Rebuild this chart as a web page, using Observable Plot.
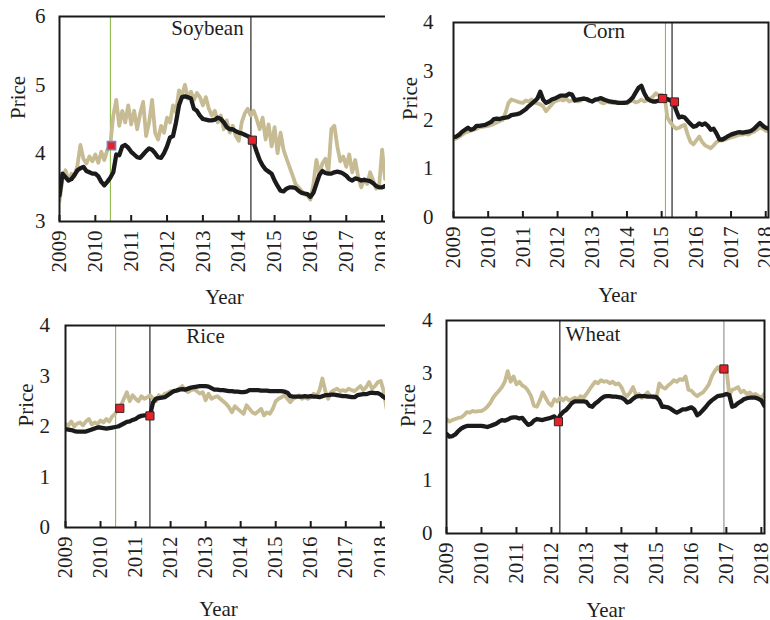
<!DOCTYPE html>
<html>
<head>
<meta charset="utf-8">
<script src="https://cdn.jsdelivr.net/npm/d3@7"></script>
<script src="https://cdn.jsdelivr.net/npm/@observablehq/plot@0.6"></script>
<style>
  html, body { margin: 0; padding: 0; background: #fff; }
  #chart { position: relative; width: 770px; height: 620px; overflow: hidden; }
  #chart > div { position: absolute; }
</style>
</head>
<body>
<div id="chart"></div>
<script>
// Monthly price series, starting January 2009 (one value per month).
const years = [2009, 2010, 2011, 2012, 2013, 2014, 2015, 2016, 2017, 2018];

const soybeanLight = [3.30,3.62,3.75,3.60,3.70,3.66,3.82,4.12,3.92,3.85,3.95,3.88,
  3.98,3.86,4.02,3.90,4.05,4.12,4.55,4.78,4.40,4.62,4.45,4.70,
  4.42,4.62,4.35,4.58,4.75,4.25,4.45,4.78,4.30,4.20,4.40,4.30,
  4.52,4.45,4.70,4.60,4.92,4.85,5.00,4.80,4.90,4.78,4.88,4.82,
  4.70,4.82,4.65,4.55,4.62,4.45,4.55,4.35,4.48,4.30,4.40,4.25,
  4.18,4.45,4.58,4.65,4.55,4.62,4.50,4.35,4.52,4.20,4.42,4.10,
  4.38,4.00,4.30,4.05,3.92,3.80,3.68,3.55,3.50,3.45,3.40,3.38,
  3.32,3.55,3.90,3.70,3.85,3.92,3.72,4.35,4.40,4.10,3.88,3.95,
  3.80,3.98,3.72,3.90,3.65,3.50,3.62,3.55,3.72,3.60,3.48,3.52,
  4.05,3.62,3.70];
const soybeanDark = [3.38,3.70,3.65,3.60,3.62,3.68,3.75,3.78,3.80,3.74,3.72,3.70,
  3.70,3.66,3.58,3.53,3.58,3.64,3.72,3.98,3.97,4.10,4.12,4.08,
  4.02,3.98,3.94,3.93,3.98,4.03,4.07,4.05,4.00,3.94,3.93,4.00,
  4.10,4.23,4.25,4.45,4.70,4.82,4.83,4.82,4.80,4.65,4.62,4.55,
  4.50,4.49,4.48,4.48,4.49,4.52,4.50,4.45,4.38,4.35,4.35,4.32,
  4.30,4.29,4.27,4.25,4.22,4.15,4.02,3.90,3.82,3.76,3.73,3.70,
  3.60,3.52,3.45,3.44,3.48,3.50,3.50,3.49,3.45,3.42,3.41,3.40,
  3.36,3.42,3.55,3.68,3.74,3.71,3.70,3.70,3.72,3.73,3.72,3.70,
  3.67,3.62,3.60,3.63,3.62,3.60,3.61,3.60,3.59,3.56,3.52,3.50,
  3.50,3.52,3.52];

const cornLight = [1.60,1.62,1.66,1.70,1.74,1.76,1.78,1.80,1.82,1.85,1.86,1.87,
  1.88,1.90,1.92,1.95,1.98,2.00,2.15,2.35,2.42,2.40,2.38,2.36,
  2.35,2.40,2.38,2.42,2.36,2.34,2.32,2.28,2.18,2.25,2.32,2.38,
  2.40,2.42,2.40,2.44,2.38,2.40,2.43,2.38,2.40,2.45,2.42,2.40,
  2.38,2.40,2.42,2.36,2.34,2.38,2.36,2.35,2.38,2.36,2.35,2.36,
  2.34,2.38,2.40,2.36,2.38,2.42,2.38,2.40,2.44,2.48,2.55,2.50,
  2.52,2.48,2.05,1.95,1.88,1.82,1.84,1.88,1.90,1.70,1.55,1.50,
  1.58,1.66,1.55,1.48,1.45,1.42,1.48,1.55,1.58,1.58,1.60,1.62,
  1.64,1.66,1.68,1.70,1.70,1.72,1.70,1.74,1.76,1.80,1.85,1.82,
  1.78,1.76];
const cornDark = [1.65,1.66,1.70,1.76,1.80,1.84,1.80,1.82,1.88,1.88,1.89,1.90,
  1.93,1.96,2.02,2.03,2.02,2.04,2.05,2.06,2.10,2.11,2.12,2.14,
  2.18,2.22,2.28,2.33,2.38,2.44,2.58,2.42,2.35,2.38,2.42,2.44,
  2.47,2.50,2.50,2.50,2.54,2.52,2.40,2.42,2.43,2.44,2.43,2.40,
  2.38,2.42,2.43,2.45,2.42,2.40,2.38,2.37,2.36,2.35,2.35,2.35,
  2.36,2.40,2.46,2.56,2.66,2.70,2.55,2.44,2.40,2.38,2.38,2.40,
  2.42,2.44,2.43,2.40,2.38,2.20,2.05,2.07,2.05,1.98,1.92,1.86,
  1.88,1.93,1.90,1.93,1.88,1.80,1.82,1.72,1.60,1.60,1.63,1.67,
  1.70,1.72,1.74,1.75,1.74,1.75,1.76,1.78,1.82,1.88,1.94,1.88,
  1.84,1.82];

const riceLight = [2.05,2.02,2.10,2.00,2.06,2.08,2.02,2.10,2.15,2.04,2.08,2.05,
  2.12,2.08,2.15,2.10,2.20,2.25,2.35,2.42,2.55,2.68,2.50,2.62,
  2.55,2.50,2.60,2.55,2.58,2.62,2.55,2.50,2.62,2.58,2.65,2.66,
  2.70,2.68,2.72,2.75,2.80,2.72,2.68,2.72,2.74,2.70,2.65,2.68,
  2.52,2.65,2.55,2.58,2.60,2.55,2.50,2.45,2.38,2.28,2.40,2.35,
  2.30,2.25,2.42,2.35,2.28,2.25,2.30,2.35,2.22,2.28,2.25,2.35,
  2.50,2.55,2.58,2.62,2.55,2.48,2.55,2.58,2.62,2.55,2.58,2.55,
  2.58,2.65,2.60,2.72,2.95,2.70,2.55,2.68,2.72,2.75,2.70,2.72,
  2.70,2.75,2.72,2.70,2.75,2.80,2.72,2.78,2.88,2.75,2.80,2.88,
  2.90,2.70,2.35];
const riceDark = [1.95,1.94,1.93,1.91,1.90,1.90,1.90,1.90,1.92,1.94,1.96,1.98,
  1.98,1.97,1.96,1.97,1.98,1.99,2.00,2.03,2.06,2.09,2.10,2.13,
  2.15,2.19,2.21,2.22,2.22,2.23,2.48,2.55,2.56,2.57,2.58,2.62,
  2.66,2.70,2.71,2.73,2.74,2.73,2.75,2.77,2.78,2.79,2.80,2.80,
  2.80,2.79,2.76,2.73,2.73,2.72,2.72,2.71,2.70,2.70,2.69,2.69,
  2.68,2.68,2.69,2.72,2.72,2.72,2.72,2.71,2.71,2.71,2.70,2.70,
  2.70,2.70,2.70,2.69,2.67,2.60,2.59,2.59,2.59,2.59,2.60,2.59,
  2.60,2.59,2.59,2.58,2.60,2.62,2.62,2.63,2.63,2.62,2.61,2.60,
  2.60,2.59,2.58,2.58,2.62,2.63,2.64,2.64,2.66,2.67,2.66,2.66,
  2.63,2.58,2.55];

const wheatLight = [2.15,2.10,2.13,2.15,2.17,2.18,2.22,2.28,2.27,2.30,2.29,2.30,
  2.30,2.33,2.38,2.45,2.55,2.62,2.68,2.75,2.85,3.05,2.85,2.95,
  2.80,2.85,2.78,2.75,2.68,2.58,2.40,2.38,2.50,2.65,2.55,2.45,
  2.40,2.52,2.48,2.55,2.50,2.55,2.50,2.52,2.55,2.52,2.58,2.55,
  2.62,2.70,2.78,2.85,2.82,2.88,2.85,2.86,2.82,2.85,2.80,2.82,
  2.75,2.62,2.58,2.65,2.75,2.60,2.62,2.55,2.60,2.65,2.58,2.55,
  2.55,2.82,2.75,2.72,2.78,2.82,2.88,2.85,2.90,2.88,2.95,2.70,
  2.68,2.62,2.58,2.62,2.65,2.72,2.80,2.95,3.05,3.12,3.05,3.10,
  3.12,2.60,2.70,2.72,2.75,2.65,2.68,2.62,2.65,2.60,2.62,2.58,
  2.55,2.62];
const wheatDark = [1.87,1.82,1.83,1.86,1.92,1.97,2.00,2.02,2.02,2.02,2.02,2.02,
  2.02,2.01,2.00,2.02,2.04,2.06,2.10,2.13,2.12,2.14,2.17,2.18,
  2.18,2.16,2.17,2.10,2.04,2.06,2.12,2.15,2.14,2.13,2.15,2.16,
  2.18,2.20,2.12,2.22,2.28,2.32,2.38,2.45,2.48,2.48,2.48,2.48,
  2.47,2.40,2.38,2.44,2.48,2.53,2.57,2.58,2.58,2.57,2.57,2.56,
  2.55,2.52,2.46,2.48,2.53,2.57,2.58,2.58,2.58,2.57,2.57,2.57,
  2.56,2.50,2.38,2.38,2.37,2.34,2.30,2.27,2.30,2.33,2.33,2.35,
  2.37,2.33,2.22,2.26,2.32,2.38,2.45,2.50,2.54,2.58,2.59,2.60,
  2.62,2.60,2.38,2.40,2.45,2.48,2.52,2.54,2.55,2.55,2.55,2.53,
  2.50,2.40];

// Event dates (vertical rules) and the highlighted observations at them.
const soybeanEvents = [2010.42, 2014.34];
const cornEvents = [2015.11, 2015.30];
const riceEvents = [2010.43, 2011.41];
const wheatEvents = [2012.24, 2016.93];

const soybeanPoints = [[2010.45, 4.11], [2014.38, 4.19]];
const cornPoints = [[2015.03, 2.44], [2015.37, 2.37]];
const ricePoints = [[2010.55, 2.36], [2011.41, 2.21]];
const wheatPoints = [[2012.20, 2.10], [2016.93, 3.09]];

const priceTicksSoy = [3, 4, 5, 6];
const priceTicks = [0, 1, 2, 3, 4];

const LIGHT = "#c7bb94";
const DARK = "#1b1b1b";
const GREEN = "#8fba4a";
const GREY = "#8a8a8a";
const RED = "#e3232b";

const panels = [
  {name: "Soybean", light: soybeanLight, dark: soybeanDark, events: soybeanEvents, eventColors: [GREEN, "#111"],
   points: soybeanPoints, pointStrokes: ["#5a8ad4", "#3a2020"], yDomain: [3, 6], yTicks: priceTicksSoy, xEnd: 2018.15,
   left: 0, top: 0, width: 392, height: 310, m: [16, 5, 89, 59], yPad: 14,
   title: [-16, 12], yearPos: [1, 76], pricePos: -41.5},
  {name: "Corn", light: cornLight, dark: cornDark, events: cornEvents, eventColors: [GREEN, "#111"],
   points: cornPoints, pointStrokes: ["#3a2020", "#3a2020"], yDomain: [0, 4], yTicks: priceTicks, xEnd: 2018.08,
   left: 385, top: 0, width: 385, height: 310, m: [22, 2, 93, 68], yPad: 20,
   title: [-7, 9], yearPos: [6.5, 77.5], pricePos: -43},
  {name: "Rice", light: riceLight, dark: riceDark, events: riceEvents, eventColors: [GREEN, "#111"],
   points: ricePoints, pointStrokes: ["#3a2020", "#3a2020"], yDomain: [0, 4], yTicks: priceTicks, xEnd: 2018.22,
   left: 0, top: 310, width: 392, height: 310, m: [15, 4, 93, 65], yPad: 15.5,
   title: [-21.5, 11], yearPos: [-8.5, 82], pricePos: -39},
  {name: "Wheat", light: wheatLight, dark: wheatDark, events: wheatEvents, eventColors: ["#111", GREY],
   points: wheatPoints, pointStrokes: ["#3a2020", "#3a2020"], yDomain: [0, 4], yTicks: priceTicks, xEnd: 2018.09,
   left: 385, top: 310, width: 385, height: 310, m: [10, 6, 87, 61], yPad: 14,
   title: [-12.5, 13.3], yearPos: [0, 76.5], pricePos: -38.5}
];

const asSeries = values => values.map((v, i) => ({date: 2009 + i / 12, price: v}));

const chart = document.getElementById("chart");

for (const p of panels) {
  const events = p.events.map((d, i) => ({date: d, color: p.eventColors[i]}));
  const points = p.points.map(([d, v], i) => ({date: d, price: v, outline: p.pointStrokes[i], sw: i === 0 && p.name === "Soybean" ? 1.6 : 1}));
  const [mt, mr, mb, ml] = p.m;

  const fig = Plot.plot({
    width: p.width,
    height: p.height,
    marginTop: mt,
    marginRight: mr,
    marginBottom: mb,
    marginLeft: ml,
    style: {fontFamily: "'Liberation Serif', 'Times New Roman', serif", fontSize: "21px", color: "#1e1e1e", background: "#fff", overflow: "visible"},
    x: {domain: [2009, p.xEnd]},
    y: {domain: p.yDomain},
    marks: [
      Plot.ruleX(events, {x: "date", stroke: "color", strokeWidth: 1.1}),
      Plot.line(asSeries(p.light), {x: "date", y: "price", stroke: LIGHT, strokeWidth: 3.8, clip: true}),
      Plot.line(asSeries(p.dark), {x: "date", y: "price", stroke: DARK, strokeWidth: 4.3, clip: true}),
      Plot.frame({stroke: "#1a1a1a", strokeWidth: 2}),
      Plot.axisX({ticks: years, tickSize: 0, tickPadding: 9, tickRotate: -90, tickFormat: d => String(d), label: null, fontSize: 21}),
      Plot.axisX({ticks: years, tickSize: 6, dy: -6, tickFormat: () => "", label: null, strokeWidth: 2, stroke: "#1a1a1a"}),
      Plot.axisY({ticks: p.yTicks, tickSize: 0, tickPadding: p.yPad, tickFormat: d => String(d), label: null, fontSize: 21}),
      Plot.dot(points, {x: "date", y: "price", symbol: "square", r: 4.6, fill: RED, stroke: "outline", strokeWidth: "sw"}),
      Plot.text([p.name], {frameAnchor: "top", dx: p.title[0], dy: p.title[1], lineAnchor: "middle", fontSize: 21, fill: "#1e1e1e"}),
      Plot.text(["Year"], {frameAnchor: "bottom", dx: p.yearPos[0], dy: p.yearPos[1], lineAnchor: "middle", fontSize: 21, fill: "#1e1e1e"}),
      Plot.text(["Price"], {frameAnchor: "left", dx: p.pricePos, rotate: -90, lineAnchor: "middle", fontSize: 21, fill: "#1e1e1e"})
    ]
  });

  const holder = document.createElement("div");
  holder.style.left = p.left + "px";
  holder.style.top = p.top + "px";
  holder.appendChild(fig);
  chart.appendChild(holder);
}
</script>
</body>
</html>
